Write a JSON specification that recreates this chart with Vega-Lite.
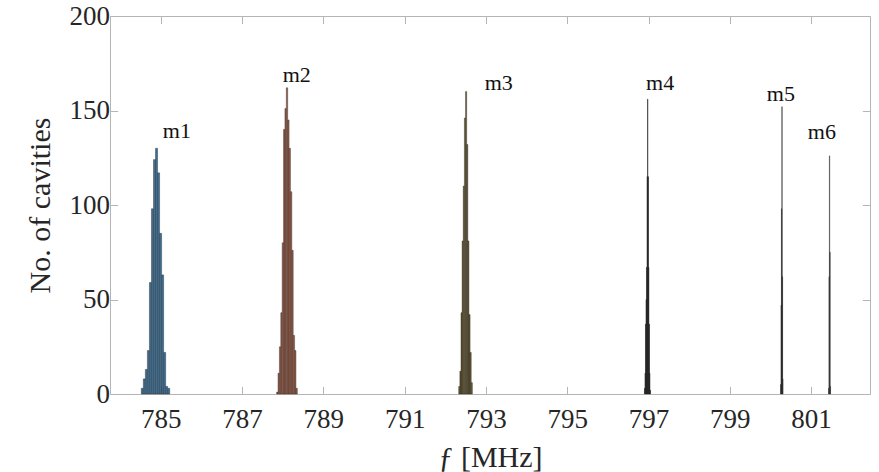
{
  "$schema": "https://vega.github.io/schema/vega-lite/v6.json",
  "width": 760,
  "height": 378,
  "autosize": {"type": "none"},
  "padding": {"left": 110, "top": 16, "right": 9, "bottom": 78},
  "background": "white",
  "config": {
    "view": {"stroke": null},
    "font": "Liberation Serif",
    "axis": {
      "domainColor": "#b5b5b5",
      "tickColor": "#b5b5b5",
      "grid": false,
      "labelFont": "Liberation Serif",
      "labelFontSize": 27,
      "labelColor": "#262626",
      "titleFont": "Liberation Serif",
      "titleFontWeight": "normal",
      "titleFontSize": 30,
      "titleColor": "#262626",
      "tickSize": -7.6
    }
  },
  "datasets": {
    "bins": [
      {"mode": "m1", "f0": 784.52, "f1": 784.57, "n": 3},
      {"mode": "m1", "f0": 784.57, "f1": 784.62, "n": 8},
      {"mode": "m1", "f0": 784.62, "f1": 784.67, "n": 13},
      {"mode": "m1", "f0": 784.67, "f1": 784.72, "n": 23},
      {"mode": "m1", "f0": 784.72, "f1": 784.77, "n": 59},
      {"mode": "m1", "f0": 784.77, "f1": 784.82, "n": 98},
      {"mode": "m1", "f0": 784.82, "f1": 784.87, "n": 124},
      {"mode": "m1", "f0": 784.87, "f1": 784.92, "n": 130},
      {"mode": "m1", "f0": 784.92, "f1": 784.97, "n": 117},
      {"mode": "m1", "f0": 784.97, "f1": 785.02, "n": 85},
      {"mode": "m1", "f0": 785.02, "f1": 785.07, "n": 63},
      {"mode": "m1", "f0": 785.07, "f1": 785.12, "n": 22},
      {"mode": "m1", "f0": 785.12, "f1": 785.17, "n": 4},
      {"mode": "m1", "f0": 785.17, "f1": 785.22, "n": 3},
      {"mode": "m2", "f0": 787.850, "f1": 787.884, "n": 1},
      {"mode": "m2", "f0": 787.884, "f1": 787.918, "n": 11},
      {"mode": "m2", "f0": 787.918, "f1": 787.952, "n": 25},
      {"mode": "m2", "f0": 787.952, "f1": 787.986, "n": 43},
      {"mode": "m2", "f0": 787.986, "f1": 788.020, "n": 80},
      {"mode": "m2", "f0": 788.020, "f1": 788.054, "n": 140},
      {"mode": "m2", "f0": 788.054, "f1": 788.088, "n": 151},
      {"mode": "m2", "f0": 788.088, "f1": 788.122, "n": 162},
      {"mode": "m2", "f0": 788.122, "f1": 788.156, "n": 145},
      {"mode": "m2", "f0": 788.156, "f1": 788.190, "n": 130},
      {"mode": "m2", "f0": 788.190, "f1": 788.224, "n": 107},
      {"mode": "m2", "f0": 788.224, "f1": 788.258, "n": 76},
      {"mode": "m2", "f0": 788.258, "f1": 788.292, "n": 31},
      {"mode": "m2", "f0": 788.292, "f1": 788.326, "n": 23},
      {"mode": "m2", "f0": 788.326, "f1": 788.360, "n": 3},
      {"mode": "m3", "f0": 792.330, "f1": 792.358, "n": 4},
      {"mode": "m3", "f0": 792.358, "f1": 792.386, "n": 12},
      {"mode": "m3", "f0": 792.386, "f1": 792.414, "n": 43},
      {"mode": "m3", "f0": 792.414, "f1": 792.442, "n": 81},
      {"mode": "m3", "f0": 792.442, "f1": 792.470, "n": 110},
      {"mode": "m3", "f0": 792.470, "f1": 792.498, "n": 146},
      {"mode": "m3", "f0": 792.498, "f1": 792.526, "n": 160},
      {"mode": "m3", "f0": 792.526, "f1": 792.554, "n": 132},
      {"mode": "m3", "f0": 792.554, "f1": 792.582, "n": 81},
      {"mode": "m3", "f0": 792.582, "f1": 792.610, "n": 42},
      {"mode": "m3", "f0": 792.610, "f1": 792.638, "n": 22},
      {"mode": "m3", "f0": 792.638, "f1": 792.666, "n": 6},
      {"mode": "m4", "f0": 796.9000, "f1": 796.9125, "n": 3},
      {"mode": "m4", "f0": 796.9125, "f1": 796.9250, "n": 11},
      {"mode": "m4", "f0": 796.9250, "f1": 796.9375, "n": 37},
      {"mode": "m4", "f0": 796.9375, "f1": 796.9500, "n": 50},
      {"mode": "m4", "f0": 796.9500, "f1": 796.9625, "n": 67},
      {"mode": "m4", "f0": 796.9625, "f1": 796.9750, "n": 115},
      {"mode": "m4", "f0": 796.9750, "f1": 796.9875, "n": 156},
      {"mode": "m4", "f0": 796.9875, "f1": 797.0000, "n": 115},
      {"mode": "m4", "f0": 797.0000, "f1": 797.0125, "n": 67},
      {"mode": "m4", "f0": 797.0125, "f1": 797.0250, "n": 37},
      {"mode": "m4", "f0": 797.0250, "f1": 797.0375, "n": 11},
      {"mode": "m4", "f0": 797.0375, "f1": 797.0500, "n": 2},
      {"mode": "m5", "f0": 800.25, "f1": 800.26, "n": 5},
      {"mode": "m5", "f0": 800.26, "f1": 800.27, "n": 47},
      {"mode": "m5", "f0": 800.27, "f1": 800.28, "n": 98},
      {"mode": "m5", "f0": 800.28, "f1": 800.29, "n": 152},
      {"mode": "m5", "f0": 800.29, "f1": 800.30, "n": 62},
      {"mode": "m5", "f0": 800.30, "f1": 800.31, "n": 8},
      {"mode": "m6", "f0": 801.43, "f1": 801.44, "n": 3},
      {"mode": "m6", "f0": 801.44, "f1": 801.45, "n": 62},
      {"mode": "m6", "f0": 801.45, "f1": 801.46, "n": 126},
      {"mode": "m6", "f0": 801.46, "f1": 801.47, "n": 75},
      {"mode": "m6", "f0": 801.47, "f1": 801.48, "n": 4}
    ],
    "labels": [
      {"label": "m1", "f": 785.05, "n": 139},
      {"label": "m2", "f": 788.0, "n": 169},
      {"label": "m3", "f": 792.97, "n": 164.5},
      {"label": "m4", "f": 796.94, "n": 164.5},
      {"label": "m5", "f": 799.91, "n": 158.7},
      {"label": "m6", "f": 800.92, "n": 138.6}
    ]
  },
  "layer": [
    {
      "data": {"name": "bins"},
      "mark": {"type": "bar", "stroke": "#262626", "strokeWidth": 0.4},
      "encoding": {
        "x": {
          "field": "f0", "type": "quantitative",
          "scale": {"domain": [783.75, 802.45], "nice": false, "zero": false},
          "axis": {"orient": "bottom", "values": [785, 787, 789, 791, 793, 795, 797, 799, 801], "labelPadding": 20, "title": "ƒ  [MHz]", "titlePadding": 10}
        },
        "x2": {"field": "f1"},
        "y": {
          "field": "n", "type": "quantitative",
          "scale": {"domain": [0, 200], "nice": false},
          "axis": {"orient": "left", "values": [0, 50, 100, 150, 200], "labelPadding": 8, "title": "No. of cavities", "titlePadding": 14}
        },
        "y2": {"datum": 0},
        "color": {
          "field": "mode", "type": "nominal",
          "scale": {"domain": ["m1", "m2", "m3", "m4", "m5", "m6"], "range": ["#3d6e94", "#a05c45", "#6b5a2c", "#111111", "#222222", "#444444"]},
          "legend": null
        }
      }
    },
    {
      "data": {"name": "labels"},
      "mark": {"type": "text", "align": "left", "baseline": "middle", "fontSize": 22, "font": "Liberation Serif", "color": "#111111"},
      "encoding": {
        "x": {"field": "f", "type": "quantitative", "axis": {"orient": "top", "values": [785, 787, 789, 791, 793, 795, 797, 799, 801], "labels": false, "title": null}},
        "y": {"field": "n", "type": "quantitative", "axis": {"orient": "right", "values": [0, 50, 100, 150, 200], "labels": false, "title": null}},
        "text": {"field": "label"}
      }
    }
  ],
  "resolve": {"axis": {"x": "independent", "y": "independent"}}
}
